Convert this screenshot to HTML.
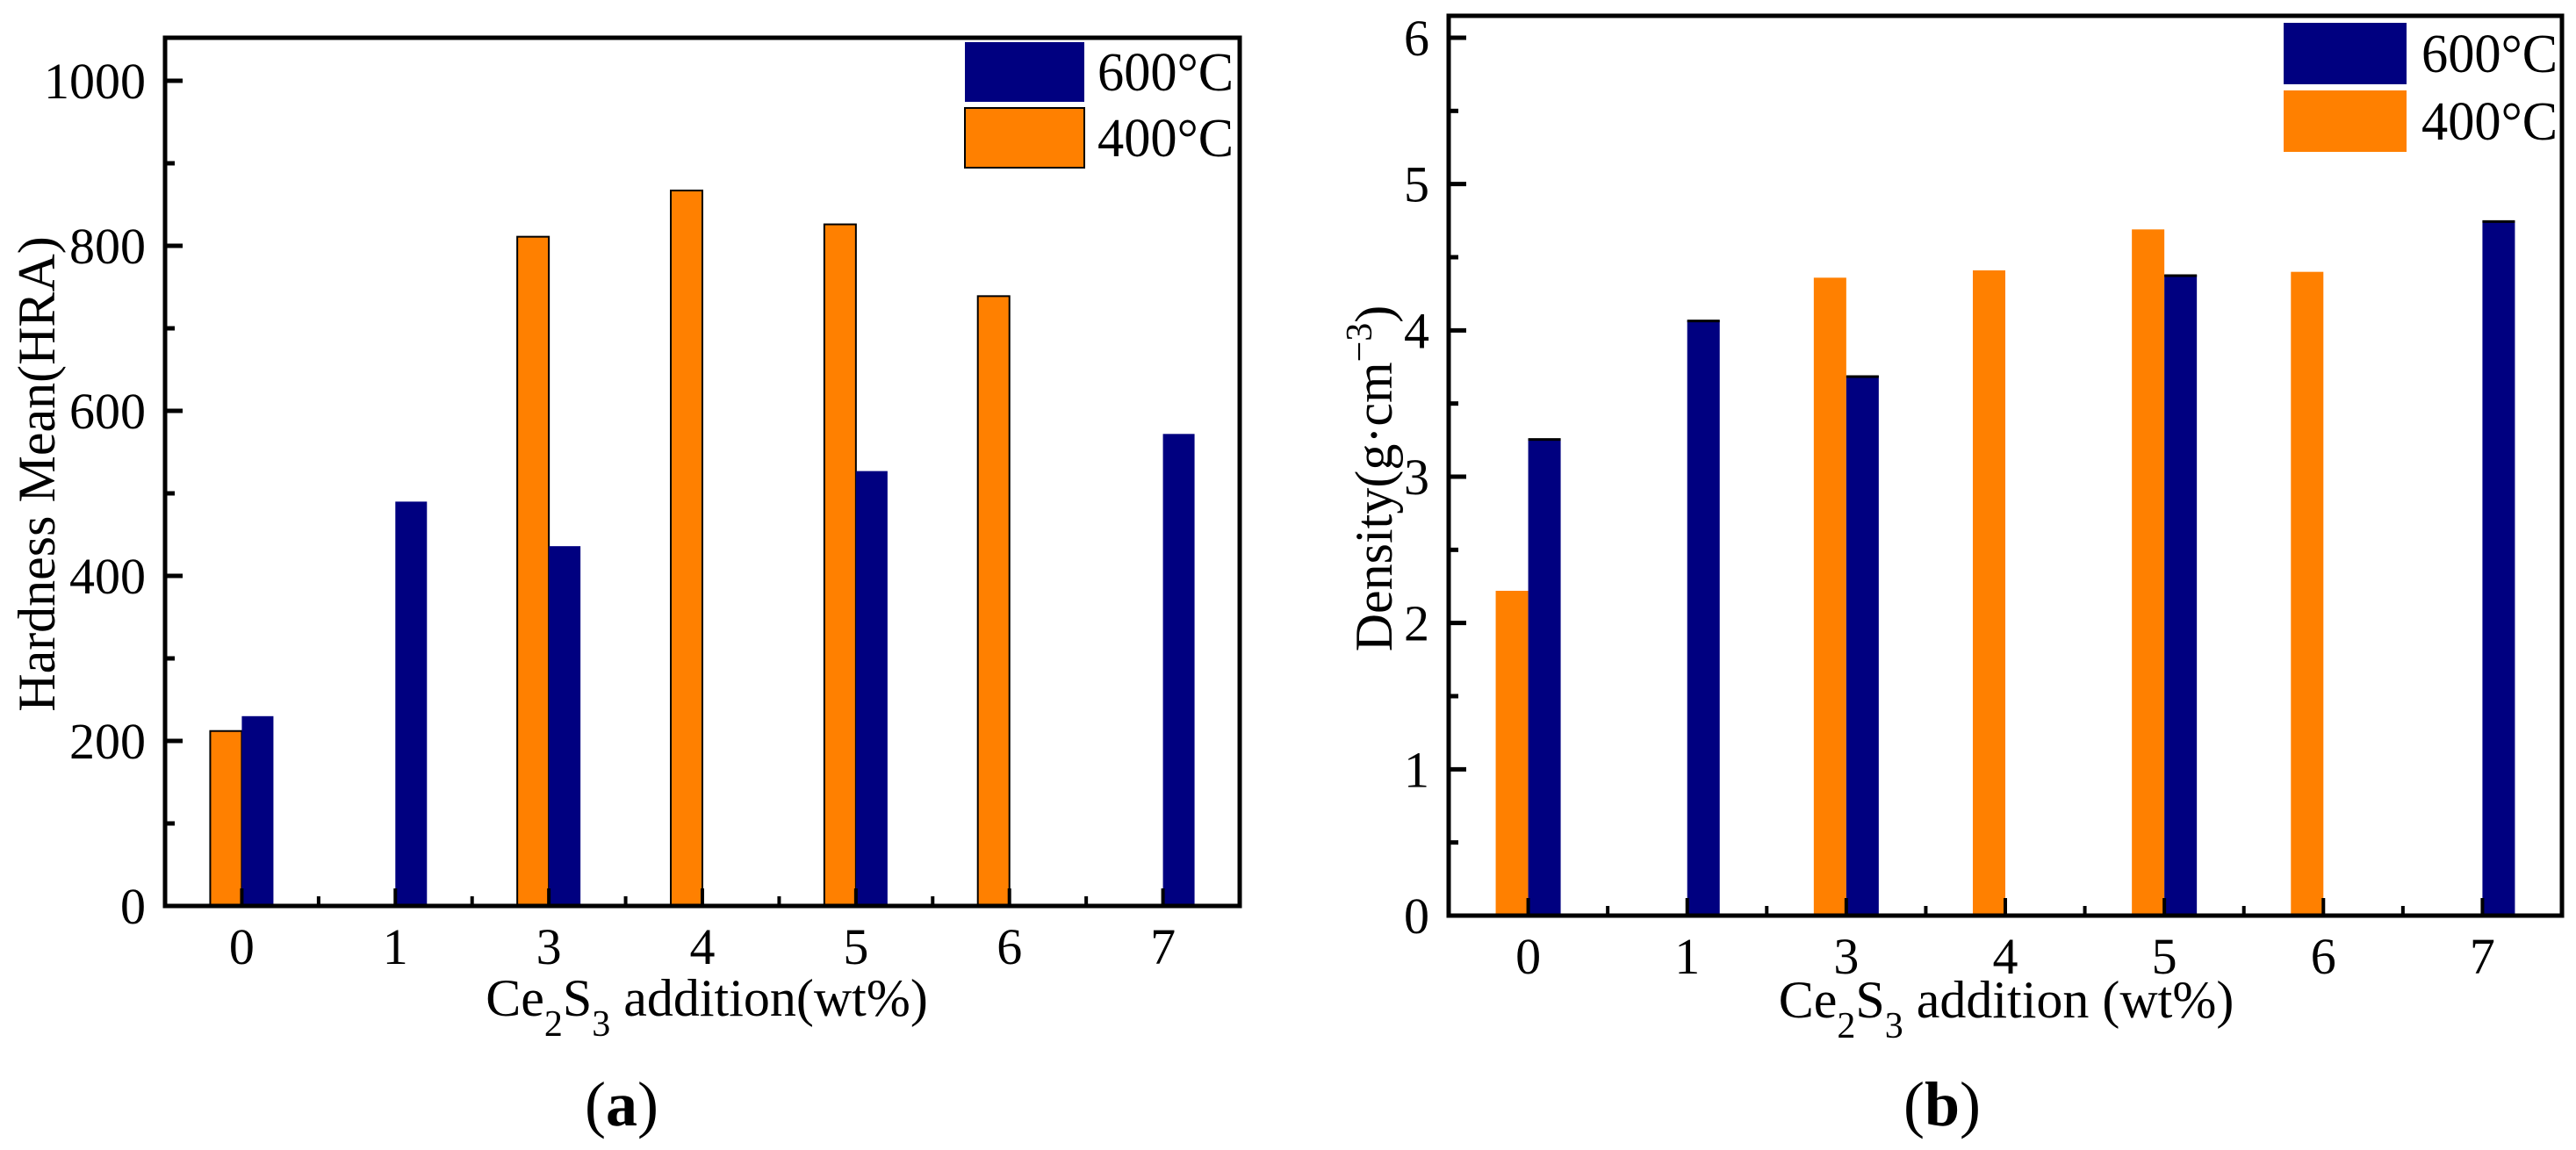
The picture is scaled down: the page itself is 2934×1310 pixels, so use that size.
<!DOCTYPE html>
<html><head><meta charset="utf-8"><style>
html,body{margin:0;padding:0;background:#fff;}
svg{display:block;font-family:"Liberation Serif",serif;}
</style></head><body>
<svg id="fig" width="2934" height="1310" viewBox="0 0 2934 1310" xmlns="http://www.w3.org/2000/svg"></svg>
<script>
const categories = ["0","1","3","4","5","6","7"];
const hardness600 = [230, 490, 436, null, 527, null, 572];
const hardness400 = [212, null, 811, 867, 826, 739, null];
const density600 = [3.26, 4.07, 3.69, null, 4.38, null, 4.75];
const density400 = [2.22, null, 4.36, 4.41, 4.69, 4.40, null];
const hardnessTicks = [0, 200, 400, 600, 800, 1000];
const densityTicks = [0, 1, 2, 3, 4, 5, 6];

const NS = "http://www.w3.org/2000/svg";
const svg = document.getElementById("fig");
function mk(tag, attrs, parent) {
  const e = document.createElementNS(NS, tag);
  for (const k in attrs) e.setAttribute(k, attrs[k]);
  (parent || svg).appendChild(e);
  return e;
}
const BLUE = "#000080", ORANGE = "#FF8000";

function panel(cfg) {
  const g = mk("g", {});
  
  
  const {x0, x1, yTop, y0, yMax, vMin, vMax} = cfg;
  const yScale = v => y0 - (v - vMin) / (vMax - vMin) * (y0 - yMax);
  const step = (x1 - x0) / categories.length;
  const xc = i => x0 + step * (i + 0.5);
  const bw = cfg.barW;
  // bars
  categories.forEach((c, i) => {
    const vo = cfg.s400[i];
    if (vo != null) {
      const r = mk("rect", {x: xc(i) - bw, y: yScale(vo), width: bw, height: y0 - yScale(vo), fill: ORANGE,
        stroke: cfg.orangeStroke ? "#000" : "none", "stroke-width": 2}, g);
      
      
    }
    const vb = cfg.s600[i];
    if (vb != null) {
      const r = mk("rect", {x: xc(i), y: yScale(vb), width: bw, height: y0 - yScale(vb), fill: BLUE}, g);
      
      
      if (cfg.blueTop) mk("line", {x1: xc(i), x2: xc(i) + bw, y1: yScale(vb) + 1, y2: yScale(vb) + 1, stroke: "#000", "stroke-width": 3}, g);
    }
  });
  // frame
  const fr = mk("rect", {x: x0, y: yTop, width: x1 - x0, height: y0 - yTop, fill: "none", stroke: "#000", "stroke-width": 5}, g);
  
  
  // y ticks
  cfg.ticks.forEach((t, k) => {
    const y = yScale(t);
    mk("line", {x1: x0, x2: x0 + 20, y1: y, y2: y, stroke: "#000", "stroke-width": 5}, g);
    const tl = mk("text", {x: x0 - 22, y: y + 20, "text-anchor": "end", "font-size": 58}, g);
    tl.textContent = cfg.tickLabels[k];
    
    
    if (k < cfg.ticks.length - 1) {
      const ym = yScale((t + cfg.ticks[k + 1]) / 2);
      mk("line", {x1: x0, x2: x0 + 11, y1: ym, y2: ym, stroke: "#000", "stroke-width": 5}, g);
    }
  });
  // x ticks
  categories.forEach((c, i) => {
    mk("line", {x1: xc(i), x2: xc(i), y1: y0, y2: y0 - 20, stroke: "#000", "stroke-width": 4}, g);
    if (i < categories.length - 1) mk("line", {x1: xc(i) + step / 2, x2: xc(i) + step / 2, y1: y0, y2: y0 - 11, stroke: "#000", "stroke-width": 4}, g);
    const t = mk("text", {x: xc(i), y: y0 + 66, "text-anchor": "middle", "font-size": 58}, g);
    t.textContent = c;
    
    
  });
  // x title
  const xt = mk("text", {x: cfg.xTitleX, y: cfg.xTitleY, "text-anchor": "middle", "font-size": 60}, g);
  xt.innerHTML = 'Ce<tspan baseline-shift="sub" font-size="42">2</tspan>S<tspan baseline-shift="sub" font-size="42">3</tspan> addition' + cfg.xSuffix;
  
  
  // y title
  const yt = mk("text", {x: 0, y: 0, "text-anchor": "middle", "font-size": 60, transform: `translate(${cfg.yTitleX},${cfg.yTitleY}) rotate(-90)`}, g);
  yt.innerHTML = cfg.yTitle;
  
  
  // legend
  const L = cfg.legend;
  const lb = mk("rect", {x: L.x, y: L.y1, width: L.w, height: L.h, fill: BLUE}, g);
  
  
  const lo = mk("rect", {x: L.x, y: L.y2, width: L.w, height: L.h, fill: ORANGE, stroke: cfg.orangeStroke ? "#000" : "none", "stroke-width": 2}, g);
  
  
  const t1 = mk("text", {x: L.tx, y: L.y1 + L.h / 2 + 21, "font-size": 62, textLength: L.tw, lengthAdjust: "spacingAndGlyphs"}, g);
  t1.textContent = "600°C";
  
  
  const t2 = mk("text", {x: L.tx, y: L.y2 + L.h / 2 + 21, "font-size": 62, textLength: L.tw, lengthAdjust: "spacingAndGlyphs"}, g);
  t2.textContent = "400°C";
  
  
  // panel label
  const pl = mk("text", {x: cfg.labX, y: 1282, "text-anchor": "middle", "font-size": 72}, g);
  pl.innerHTML = '(<tspan font-weight="bold">' + cfg.lab + '</tspan>)';
  
  
}

panel({name: "hardness-chart", x0: 188, x1: 1412, yTop: 43, y0: 1032, yMax: 92, vMin: 0, vMax: 1000,
  s600: hardness600, s400: hardness400, ticks: hardnessTicks, tickLabels: hardnessTicks.map(String),
  barW: 36, orangeStroke: true, blueTop: false,
  xTitleX: 805, xTitleY: 1157, xSuffix: '(wt%)',
  yTitleX: 62, yTitleY: 540, yTitle: 'Hardness Mean(HRA)',
  legend: {x: 1099, y1: 48, y2: 123, w: 136, h: 68, tx: 1250, tw: 155}, labX: 708, lab: "a"});

panel({name: "density-chart", x0: 1650, x1: 2918, yTop: 18, y0: 1043, yMax: 43, vMin: 0, vMax: 6,
  s600: density600, s400: density400, ticks: densityTicks, tickLabels: densityTicks.map(String),
  barW: 37, orangeStroke: false, blueTop: true,
  xTitleX: 2285, xTitleY: 1159, xSuffix: ' (wt%)',
  yTitleX: 1585, yTitleY: 545, yTitle: 'Density(g·cm<tspan baseline-shift="super" font-size="42">−3</tspan>)',
  legend: {x: 2601, y1: 26, y2: 103, w: 140, h: 70, tx: 2758, tw: 155}, labX: 2212, lab: "b"});
</script>
</body></html>
